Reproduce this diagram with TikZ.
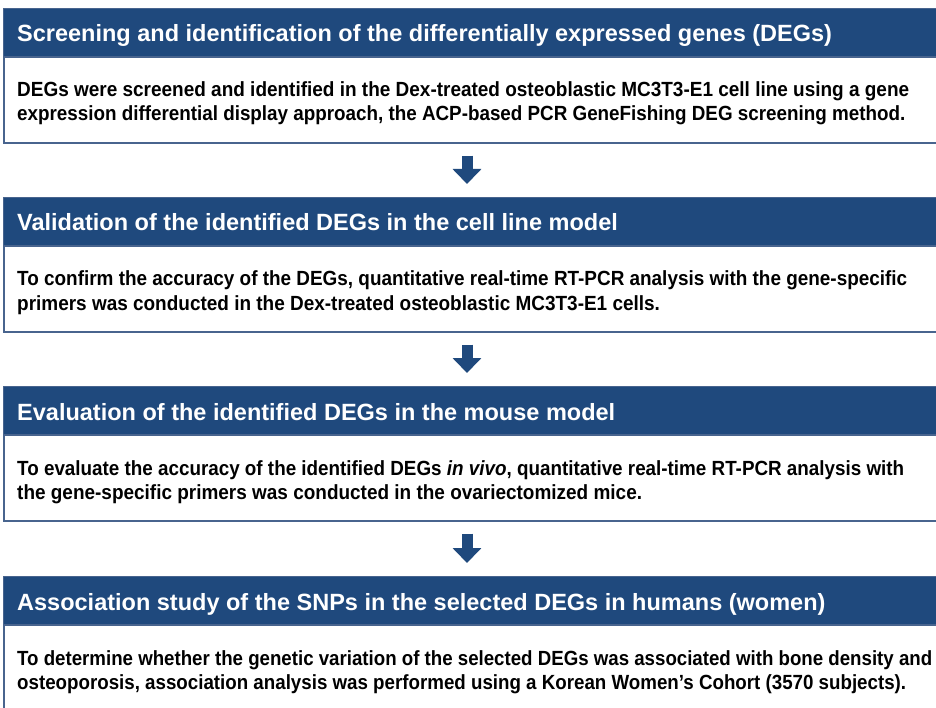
\documentclass[tikz,border=0pt]{standalone}
\usepackage{fontspec}
\setmainfont{Liberation Sans}
\usetikzlibrary{arrows.meta}
\definecolor{headblue}{RGB}{31,73,125}
\definecolor{edgeblue}{RGB}{72,100,142}
% body lines are set condensed: either by a fixed factor or to a given width
\newcommand\bline[1]{\scalebox{0.925}[1]{#1}}
\newcommand\wline[2]{\resizebox{#1pt}{\height}{#2}}

\begin{document}
\begin{tikzpicture}[x=1pt,y=-1pt,
  headbar/.style={draw=edgeblue, line width=1.2pt, fill=headblue, anchor=north west,
    minimum width=960pt, minimum height=48pt, inner sep=0pt},
  bodybox/.style={draw=edgeblue, line width=1.6pt, fill=white, anchor=north west,
    minimum width=960pt, minimum height=86pt, inner sep=0pt},
  headtext/.style={anchor=base west, text=white, inner sep=0pt,
    font=\fontsize{23.5}{26}\selectfont\bfseries},
  bodytext/.style={anchor=base west, text=black, inner sep=0pt,
    font=\fontsize{20.5}{24}\selectfont\bfseries},
  flow/.style={draw=headblue, line width=11pt,
    -{Triangle[width=28pt,length=15pt]}, shorten <=12pt, shorten >=13pt}]

\useasboundingbox (0,0) rectangle (936,708);
\clip (0,0) rectangle (936,708);
\fill[white] (0,0) rectangle (936,708);

\coordinate (ax) at (467,0);

% Stage 1
\node[headbar] (h1) at (3,8) {};
\node[bodybox] (b1) at (3,56) {};
\node[headtext] (t1) at (17,42) {Screening and identification of the differentially expressed genes (DEGs)};
\node[bodytext] (l1a) at (17,97) {\wline{892}{DEGs were screened and identified in the Dex-treated osteoblastic MC3T3-E1 cell line using a gene}};
\node[bodytext] (l1b) at (17,121) {\wline{888}{expression differential display approach, the ACP-based PCR GeneFishing DEG screening method.}};

% Stage 2
\node[headbar] (h2) at (3,197) {};
\node[bodybox] (b2) at (3,245) {};
\node[headtext] (t2) at (17,231) {Validation of the identified DEGs in the cell line model};
\node[bodytext] (l2a) at (17,286) {\wline{890}{To confirm the accuracy of the DEGs, quantitative real-time RT-PCR analysis with the gene-specific}};
\node[bodytext] (l2b) at (17,310) {\bline{primers was conducted in the Dex-treated osteoblastic MC3T3-E1 cells.}};

% Stage 3
\node[headbar] (h3) at (3,386) {};
\node[bodybox] (b3) at (3,434) {};
\node[headtext] (t3) at (17,420) {Evaluation of the identified DEGs in the mouse model};
\node[bodytext] (l3a) at (17,475) {\wline{887}{To evaluate the accuracy of the identified DEGs \textit{in vivo}, quantitative real-time RT-PCR analysis with}};
\node[bodytext] (l3b) at (17,499) {\bline{the gene-specific primers was conducted in the ovariectomized mice.}};

% Stage 4
\node[headbar] (h4) at (3,576) {};
\node[bodybox] (b4) at (3,624) {};
\node[headtext] (t4) at (17,610) {Association study of the SNPs in the selected DEGs in humans (women)};
\node[bodytext] (l4a) at (17,665) {\wline{915}{To determine whether the genetic variation of the selected DEGs was associated with bone density and}};
\node[bodytext] (l4b) at (17,689) {\wline{889}{osteoporosis, association analysis was performed using a Korean Women’s Cohort (3570 subjects).}};

% Flow arrows between stages
\draw[flow] (b1.south -| ax) -- (h2.north -| ax);
\draw[flow] (b2.south -| ax) -- (h3.north -| ax);
\draw[flow] (b3.south -| ax) -- (h4.north -| ax);
\end{tikzpicture}
\end{document}
